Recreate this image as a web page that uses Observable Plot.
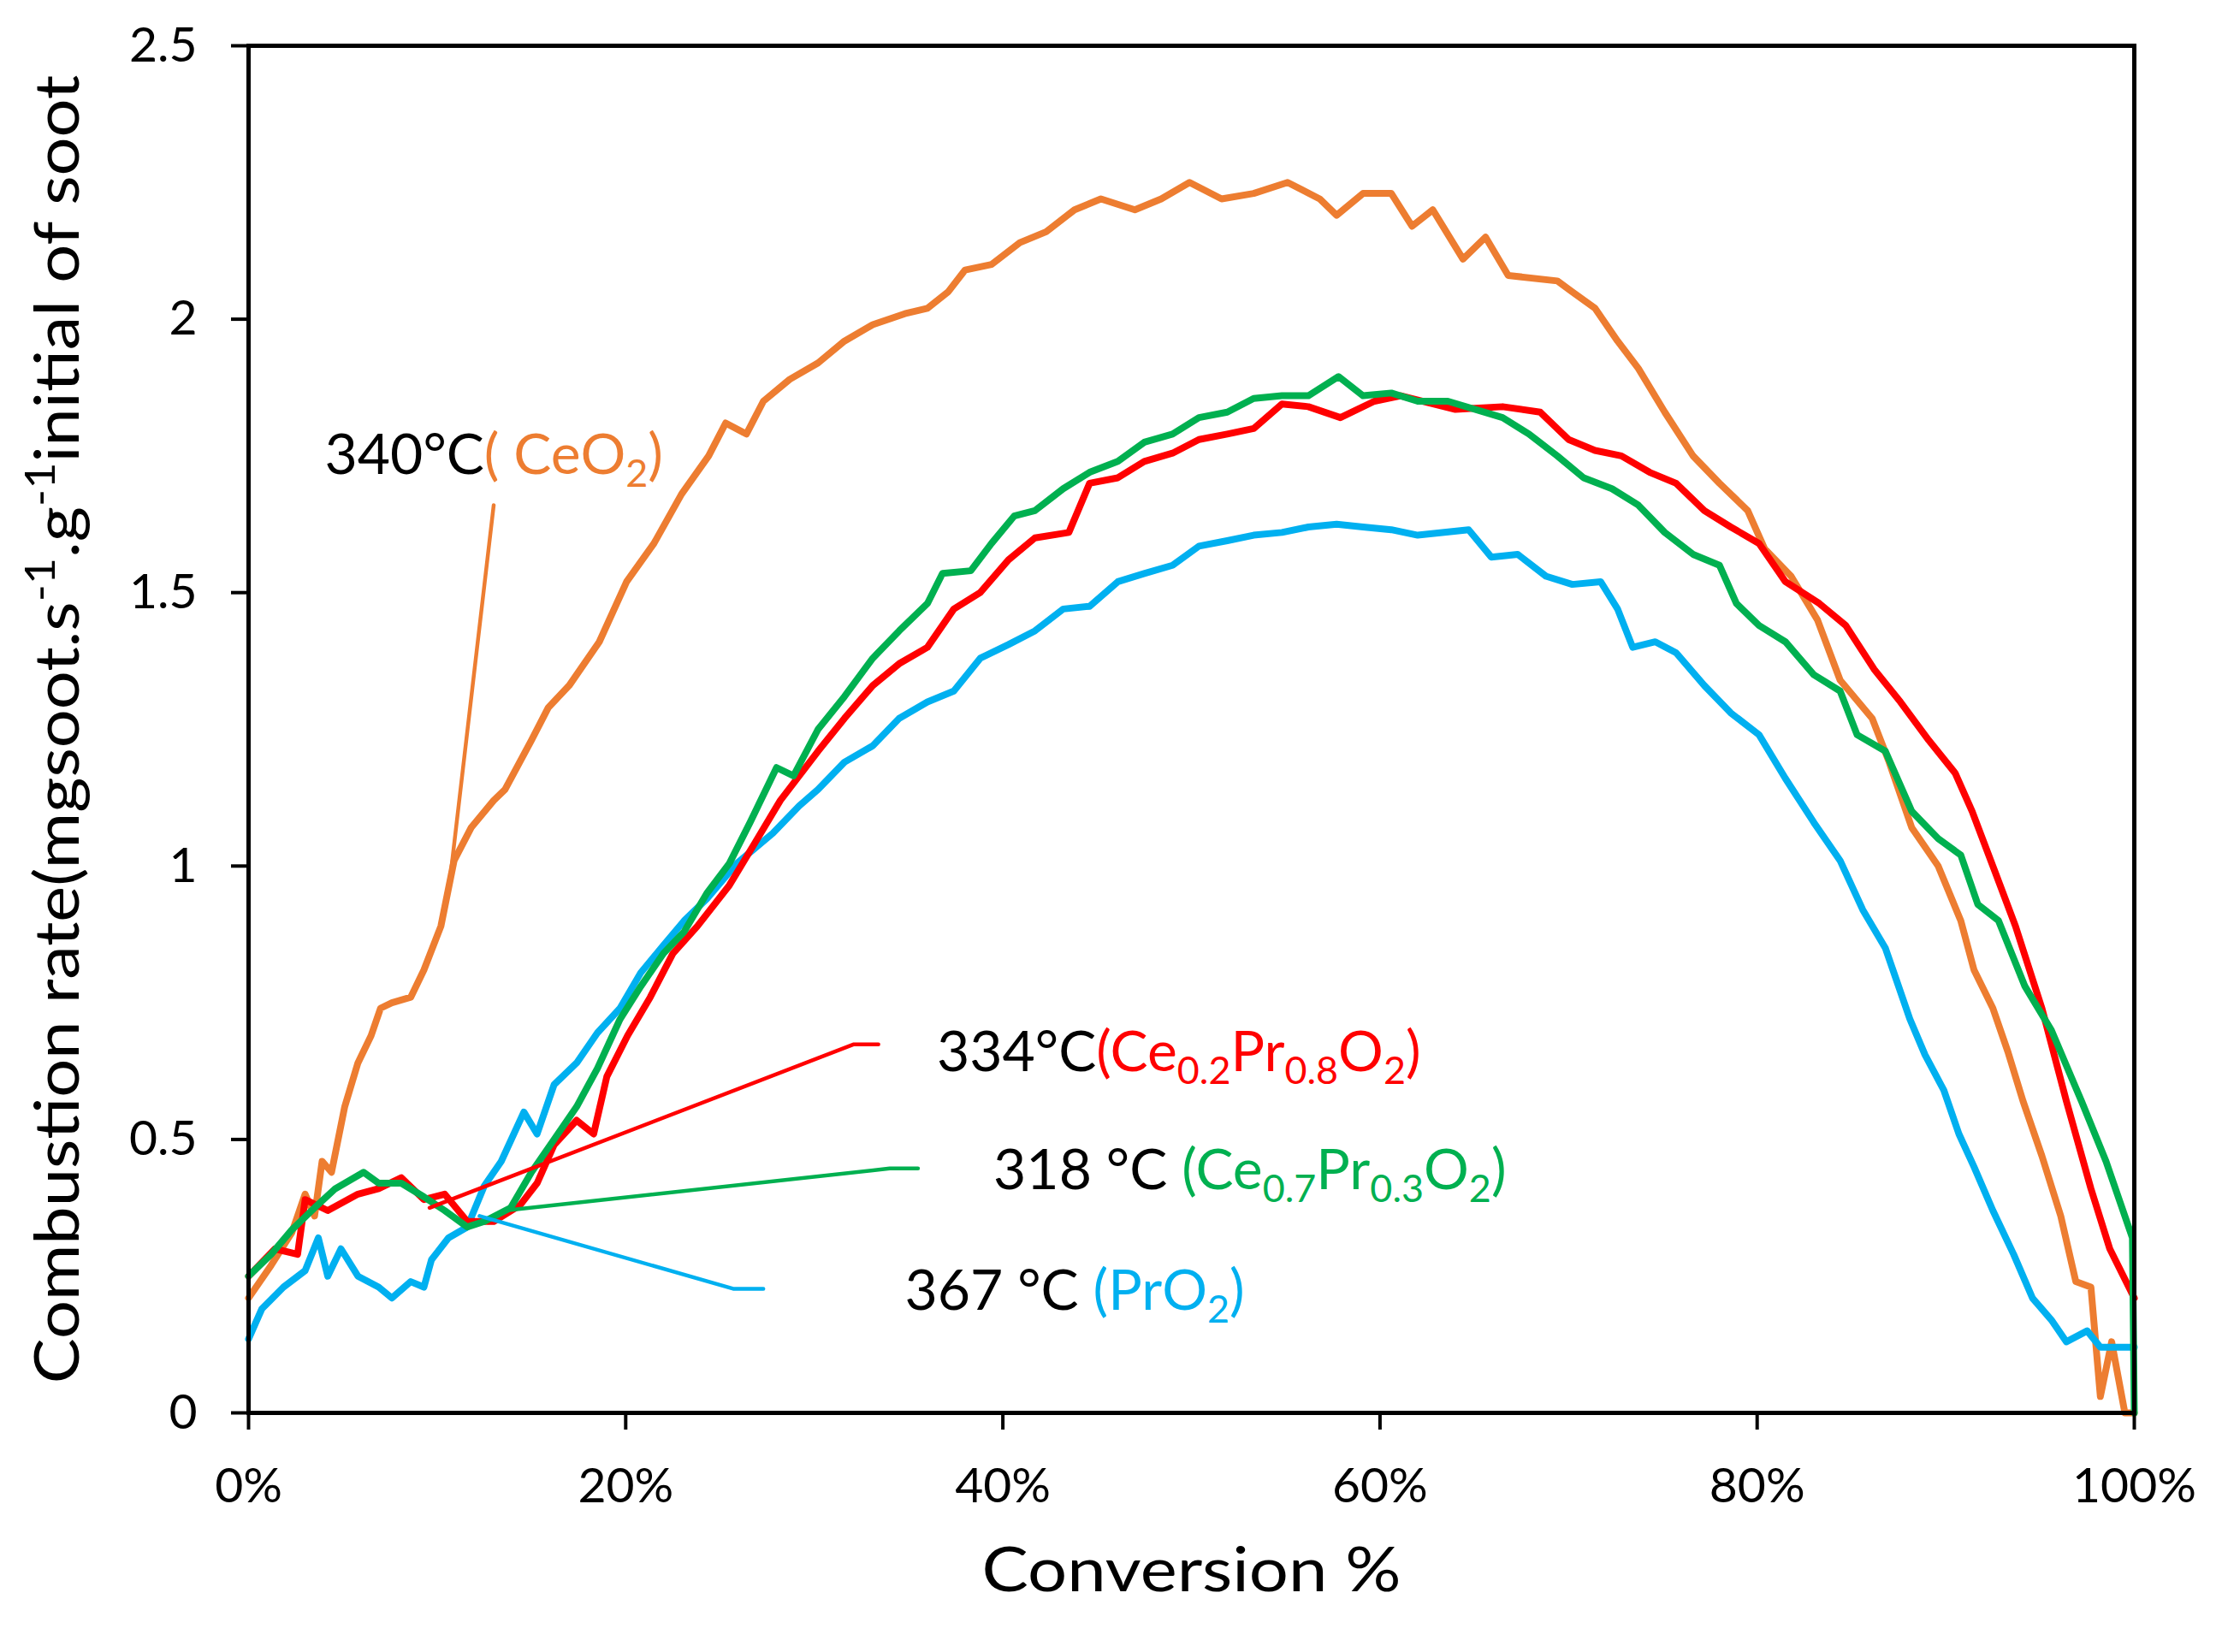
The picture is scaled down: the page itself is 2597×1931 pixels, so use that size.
<!DOCTYPE html>
<html>
<head>
<meta charset="utf-8">
<script src="https://cdn.jsdelivr.net/npm/d3@7"></script>
<script src="https://cdn.jsdelivr.net/npm/@observablehq/plot@0.6"></script>
<style>
  html, body { margin: 0; padding: 0; background: #fff; }
  #chart { width: 2597px; height: 1931px; }
</style>
</head>
<body>
<div id="chart"></div>
<script>
// ---- Data (conversion in %, combustion rate) ----
const ceo2X = [0,1.2,2.3,3.0,3.5,3.9,4.4,5.1,5.8,6.5,7.0,7.6,8.6,9.3,10.2,10.9,11.8,13.0,13.6,15.0,15.9,17.0,18.6,20.05,21.5,22.96,24.4,25.3,26.4,27.3,28.7,30.2,31.6,33.1,34.8,36.0,37.1,38.0,39.4,40.9,42.3,43.8,45.2,47.0,48.4,49.9,51.6,53.3,55.1,56.8,57.7,59.1,60.6,61.7,62.8,64.4,65.6,66.8,69.4,70.2,71.4,72.6,73.7,75.1,76.6,78.0,79.5,80.4,81.8,83.2,84.4,86.1,87.0,88.2,89.6,90.8,91.5,92.5,93.3,94.1,95.1,96.1,96.9,97.7,98.2,98.8,99.5,100];
const ceo2Y = [0.21,0.27,0.33,0.40,0.36,0.46,0.44,0.56,0.64,0.69,0.74,0.75,0.76,0.81,0.89,1.01,1.07,1.12,1.14,1.23,1.29,1.33,1.41,1.52,1.59,1.68,1.75,1.81,1.79,1.85,1.89,1.92,1.96,1.99,2.01,2.02,2.05,2.09,2.10,2.14,2.16,2.20,2.22,2.20,2.22,2.25,2.22,2.23,2.25,2.22,2.19,2.23,2.23,2.17,2.20,2.11,2.15,2.08,2.07,2.05,2.02,1.96,1.91,1.83,1.75,1.70,1.65,1.58,1.53,1.45,1.34,1.27,1.19,1.07,1.00,0.90,0.81,0.74,0.66,0.57,0.47,0.36,0.24,0.23,0.03,0.13,0.0,0.0];

const ce2X = [0,1.4,2.6,3.0,4.2,5.8,6.9,8.1,9.3,10.4,11.6,13.0,14.4,15.3,16.2,17.4,18.3,19.0,20.1,21.3,22.5,23.8,25.5,26.9,28.2,30.2,31.6,33.1,34.5,36.0,37.4,38.8,40.3,41.7,43.5,44.6,46.1,47.5,49.0,50.4,51.9,53.3,54.8,56.2,57.9,59.7,61.1,64.0,66.5,68.5,70.0,71.4,72.8,74.3,75.7,77.2,78.6,80.1,81.5,83.3,84.7,86.2,87.6,89.1,90.5,91.4,92.5,93.7,95.1,96.4,97.7,98.7,100];
const ce2Y = [0.25,0.30,0.29,0.39,0.37,0.40,0.41,0.43,0.39,0.40,0.35,0.35,0.38,0.42,0.49,0.535,0.51,0.615,0.69,0.76,0.84,0.89,0.965,1.045,1.12,1.21,1.27,1.33,1.37,1.40,1.47,1.50,1.56,1.60,1.61,1.70,1.71,1.74,1.755,1.78,1.79,1.80,1.845,1.84,1.82,1.85,1.86,1.835,1.84,1.83,1.78,1.76,1.75,1.72,1.70,1.65,1.62,1.59,1.52,1.48,1.44,1.36,1.30,1.23,1.17,1.10,1.00,0.89,0.74,0.57,0.41,0.30,0.21];

const ce7X = [0,1.2,2.3,3.5,4.6,6.1,6.9,8.1,9.3,10.4,11.6,12.5,13.9,15.0,16.2,17.4,18.5,19.7,20.8,22.0,23.1,24.3,25.5,26.6,28.0,28.9,30.2,31.6,33.1,34.5,36.0,36.8,38.3,39.4,40.6,41.7,43.2,44.6,46.1,47.5,49.0,50.4,51.9,53.3,54.8,56.2,57.8,59.1,60.6,62.0,63.6,66.5,67.9,69.4,70.8,72.3,73.7,75.1,76.6,78.0,78.9,80.1,81.5,83.0,84.4,85.3,86.8,88.2,89.6,90.8,91.7,92.8,94.2,95.6,97.2,98.5,99.9,100];
const ce7Y = [0.25,0.29,0.335,0.375,0.41,0.44,0.42,0.42,0.395,0.37,0.34,0.35,0.375,0.44,0.50,0.56,0.63,0.72,0.78,0.84,0.88,0.95,1.005,1.08,1.18,1.165,1.25,1.31,1.38,1.43,1.48,1.535,1.54,1.59,1.64,1.65,1.69,1.72,1.74,1.775,1.79,1.82,1.83,1.855,1.86,1.86,1.895,1.86,1.865,1.85,1.85,1.82,1.79,1.75,1.71,1.69,1.66,1.61,1.57,1.55,1.48,1.44,1.41,1.35,1.32,1.24,1.21,1.10,1.05,1.02,0.93,0.90,0.78,0.70,0.57,0.46,0.32,0.0];

const pro2X = [0,0.7,1.85,3.0,3.7,4.2,4.9,5.8,6.9,7.6,8.6,9.3,9.7,10.6,11.6,12.5,13.4,14.6,15.3,16.2,17.4,18.5,19.7,20.8,22.0,23.1,24.3,25.9,27.8,29.2,30.2,31.6,33.1,34.5,36.0,37.4,38.8,40.3,41.7,43.2,44.6,46.1,47.5,49.0,50.4,51.9,53.3,54.8,56.2,57.7,59.1,60.6,62.0,64.7,65.9,67.3,68.8,70.2,71.7,72.6,73.4,74.6,75.7,77.2,78.6,80.1,81.5,83.0,84.4,85.6,86.8,87.3,88.1,88.9,89.9,90.7,91.5,92.5,93.6,94.6,95.6,96.4,97.5,98.2,99.1,100];
const pro2Y = [0.135,0.19,0.23,0.26,0.32,0.25,0.30,0.25,0.23,0.21,0.24,0.23,0.28,0.32,0.34,0.415,0.46,0.55,0.51,0.60,0.64,0.695,0.74,0.805,0.855,0.90,0.94,1.005,1.06,1.11,1.14,1.19,1.22,1.27,1.30,1.32,1.38,1.405,1.43,1.47,1.475,1.52,1.535,1.55,1.585,1.595,1.605,1.61,1.62,1.625,1.62,1.615,1.605,1.615,1.565,1.57,1.53,1.515,1.52,1.47,1.40,1.41,1.39,1.33,1.28,1.24,1.16,1.08,1.01,0.92,0.85,0.80,0.72,0.655,0.59,0.51,0.45,0.37,0.29,0.21,0.17,0.13,0.15,0.12,0.12,0.12];

// series meta (drawing order)
const seriesNames = ["CeO2", "PrO2", "Ce0.2Pr0.8O2", "Ce0.7Pr0.3O2"];
const seriesColors = ["#ED7D31", "#00B0F0", "#FF0000", "#00B050"];

// leader lines (conversion %, rate)
const leaderCeo2 = [[10.7, 0.98], [13.0, 1.66]];
const leaderCe2 = [[9.6, 0.375], [32.1, 0.674], [33.4, 0.674]];
const leaderCe7 = [[13.9, 0.371], [34.0, 0.447], [35.5, 0.447]];
const leaderPro2 = [[12.25, 0.36], [25.7, 0.227], [27.3, 0.227]];

// annotation labels ("black part|colored part", _{} subscript)
const labelText = ["340°C|( CeO_{2})", "334°C|(Ce_{0.2}Pr_{0.8}O_{2})", "318 °C |(Ce_{0.7}Pr_{0.3}O_{2})", "367 °C |(PrO_{2})"];
const labelX = [4.04, 36.5, 39.5, 34.8];
const labelY = [1.750, 0.658, 0.442, 0.221];
const labelColor = ["#ED7D31", "#FF0000", "#00B050", "#00B0F0"];

const yTicks = [0, 0.5, 1, 1.5, 2, 2.5];
const xTicks = [0, 20, 40, 60, 80, 100];
const xTitle = "Conversion %";
const yTitle = "Combustion rate(mgsoot.s^{-1}.g^{-1}initial of soot";

const toPts = (xs, ys) => xs.map((x, i) => ({x, y: ys[i]}));
const seriesData = [toPts(ceo2X, ceo2Y), toPts(pro2X, pro2Y), toPts(ce2X, ce2Y), toPts(ce7X, ce7Y)];
const leaders = [leaderCeo2, leaderCe2, leaderCe7, leaderPro2];
const leaderColors = ["#ED7D31", "#FF0000", "#00B050", "#00B0F0"];

const plot = Plot.plot({
  width: 2597,
  height: 1931,
  marginLeft: 290,
  marginRight: 103,
  marginTop: 53,
  marginBottom: 280,
  style: {fontFamily: "Lato, 'Open Sans', sans-serif", fontSize: "56px", color: "black", background: "white"},
  x: {domain: [0, 100]},
  y: {domain: [0, 2.5]},
  marks: [
    ...seriesData.map((d, i) => Plot.line(d, {x: "x", y: "y", stroke: seriesColors[i], strokeWidth: 8, strokeLinejoin: "round"})),
    ...leaders.map((pts, i) => Plot.line(pts, {x: d => d[0], y: d => d[1], stroke: leaderColors[i], strokeWidth: 4.5})),
    Plot.frame({stroke: "black", strokeWidth: 5}),
    Plot.axisX({ticks: xTicks, tickSize: 20, tickPadding: 44, strokeWidth: 4, fontSize: 57, fill: "black", tickFormat: d => d + "%", label: null}),
    Plot.axisY({ticks: yTicks, tickSize: 20, tickPadding: 40, strokeWidth: 4, fontSize: 57, fill: "black", tickFormat: d => String(d), label: null}),
    Plot.text(labelText, {x: (d, i) => labelX[i], y: (d, i) => labelY[i], text: d => d, fill: (d, i) => labelColor[i], textAnchor: "start", fontSize: 66}),
    Plot.text([xTitle], {frameAnchor: "bottom", dy: 208, text: d => d, fontSize: 72, fill: "black", textAnchor: "middle"}),
    Plot.text([yTitle], {frameAnchor: "left", dx: -222, rotate: -90, text: d => d, fontSize: 72, fill: "black", textAnchor: "middle", lineAnchor: "middle"})
  ]
});
document.getElementById("chart").appendChild(plot);

// rich text: "black|colored", _{sub}, ^{sup}
d3.select(plot).selectAll("text").each(function () {
  const el = this;
  const s = el.textContent;
  if (!/[|]|_\{|\^\{/.test(s)) return;
  const fs = parseFloat(getComputedStyle(el).fontSize) || 56;
  const parts = s.split("|");
  el.textContent = "";
  parts.forEach((part, pi) => {
    const color = (parts.length > 1 && pi === 0) ? "black" : null;
    const re = /(_|\^)\{([^}]*)\}/g;
    let last = 0, m, shift = 0;
    const add = (txt, kind) => {
      if (!txt) return;
      const t = document.createElementNS("http://www.w3.org/2000/svg", "tspan");
      t.textContent = txt;
      if (color) t.setAttribute("fill", color);
      let target = 0;
      if (kind === "sub") { target = fs * 0.22; t.setAttribute("font-size", fs * 0.68); }
      else if (kind === "sup") { target = -fs * 0.38; t.setAttribute("font-size", fs * 0.68); }
      if (target !== shift) { t.setAttribute("dy", target - shift); shift = target; }
      el.appendChild(t);
    };
    while ((m = re.exec(part))) {
      add(part.slice(last, m.index), "normal");
      add(m[2], m[1] === "_" ? "sub" : "sup");
      last = re.lastIndex;
    }
    add(part.slice(last), "normal");
    if (shift !== 0) {
      const t = document.createElementNS("http://www.w3.org/2000/svg", "tspan");
      t.setAttribute("dy", -shift);
      t.textContent = "\u200B";
      el.appendChild(t);
    }
  });
});

// match the reference's title extents by scaling along the text direction
function fitLength(el, target) {
  const len = el.getComputedTextLength();
  if (!len) return;
  const k = target / len;
  const tr = el.getAttribute("transform") || "";
  el.setAttribute("transform", (tr + ` scale(${k},1)`).trim());
}
d3.select(plot).selectAll("text").each(function () {
  const s = this.textContent;
  if (s.startsWith("Combustion rate")) fitLength(this, 1530);
  else if (s === xTitle) fitLength(this, 490);
});
</script>
</body>
</html>
